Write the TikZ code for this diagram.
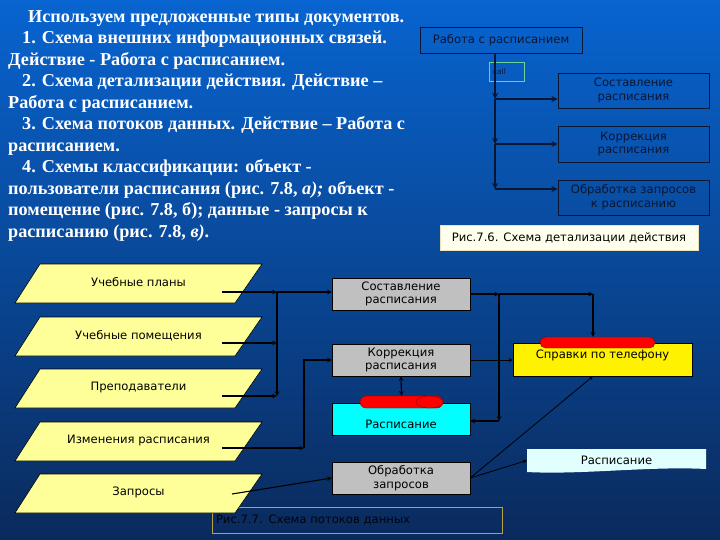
\documentclass[tikz,border=0pt]{standalone}
\usepackage{fontspec}
\setmainfont{Liberation Serif}
\newfontfamily\diafont{DejaVu Sans}
\usetikzlibrary{shapes.geometric,shapes.misc}
\definecolor{bgtop}{RGB}{8,100,208}
\definecolor{bgbot}{RGB}{10,42,92}
\definecolor{navy}{RGB}{10,22,50}
\definecolor{paper}{RGB}{255,255,153}
\definecolor{greybox}{RGB}{192,192,192}
\definecolor{aqua}{RGB}{0,255,255}
\definecolor{callgreen}{RGB}{110,210,150}
\definecolor{olive}{RGB}{190,160,70}
\definecolor{ivory}{RGB}{255,255,238}
\definecolor{pale}{RGB}{225,255,255}

\begin{document}
\begin{tikzpicture}[x=1pt,y=-1pt,>=stealth,
	every node/.style={font=\diafont\fontsize{11.6}{13.8}\selectfont, align=center, inner sep=0pt},
	frame/.style={draw=navy, line width=0.8pt, text=navy, minimum width=151pt, minimum height=35pt},
	proc/.style={draw=black, fill=greybox, text=black, minimum width=138pt, minimum height=32pt},
	pill/.style={rounded rectangle, draw=red!55!black, fill=red, minimum height=11pt},
	flow/.style={->, line width=1.1pt, black},
	bus/.style={->, line width=1.7pt, navy}]
		\shade[top color=bgtop, bottom color=bgbot] (0,0) rectangle (720,540);
		\useasboundingbox (0,0) rectangle (720,540);
		
		% text of the slide
		\node[anchor=north west, text=white, align=left, font=\bfseries\fontsize{18.2}{21.5}\selectfont] (intro) at (8,10) {%
			\hspace*{20pt}Используем предложенные типы документов.\\
			\hspace*{14pt}1. Схема внешних информационных связей.\\
			Действие - Работа с расписанием.\\
			\hspace*{14pt}2. Схема детализации действия. Действие –\\
			Работа с расписанием.\\
			\hspace*{14pt}3. Схема потоков данных. Действие – Работа с\\
			расписанием.\\
			\hspace*{14pt}4. Схемы классификации: объект -\\
			пользователи расписания (рис. 7.8, \textit{а);} объект -\\
			помещение (рис. 7.8, б); данные - запросы к\\
			расписанию (рис. 7.8, \textit{в)}.};
		
		% fig. 7.6
		\node[frame, minimum width=162pt, minimum height=26pt] (work) at (501,40) {Работа с расписанием};
		\node[draw=callgreen, line width=0.8pt, text=navy, text width=27pt, inner xsep=4pt, align=left,
			minimum height=19pt, font=\diafont\fontsize{7.5}{9}\selectfont] (call) at (506.5,71.5) {call};
		\node[frame] (plan) at (633.5,90.5) {Составление\\расписания};
		\node[frame, minimum height=36pt] (fix) at (633.5,144) {Коррекция\\расписания};
		\node[frame] (answer) at (633.5,197.5) {Обработка запросов\\к расписанию};
		\node[draw=ivory!70!olive, fill=ivory, text=black, minimum width=258pt, minimum height=25pt] (cap76) at (569,237.5) {Рис.7.6. Схема детализации действия};
		
		\coordinate (j0) at (495,53);
		\coordinate (j1) at (495,99);
		\coordinate (j2) at (495,144);
		\coordinate (j3) at (495,189);
		\draw[bus] (j0) -- (j1);
		\draw[bus] (j1) -- (j2);
		\draw[bus] (j2) -- (j3);
		\draw[bus] (j1) -- (j1 -| plan.west);
		\draw[bus] (j2) -- (j2 -| fix.west);
		\draw[bus] (j3) -- (j3 -| answer.west);
		
		% fig. 7.7
		\node[draw=olive, line width=0.8pt, text=black!80!navy, text width=282pt, align=left,
			minimum width=290pt, minimum height=26pt] (cap77) at (357,520) {Рис.7.7. Схема потоков данных};
		
		\foreach \y/\name/\label in {283.5/plans/Учебные планы, 336.5/rooms/Учебные помещения,
				388.5/staff/Преподаватели, 441.5/changes/Изменения расписания, 493.5/requests/Запросы} {
			\filldraw[draw=black, fill=paper, line width=0.6pt] (40,\y-19.5) -- (262,\y-19.5) -- (235,\y+19.5) -- (15,\y+19.5) -- cycle;
			\node[text=black] (\name) at (138.5,\y-1) {\label};
		}
		
		\node[proc] (compose) at (401,294) {Составление\\расписания};
		\node[proc] (correct) at (401,360) {Коррекция\\расписания};
		\node[proc, fill=aqua, text height=20pt] (timetable) at (401,419) {Расписание};
		\node[proc] (process) at (401,478) {Обработка\\запросов};
		\node[pill, minimum width=83pt, minimum height=12pt] (tablecap) at (401.5,402) {};
		\node[ellipse, draw=red!55!black, fill=red, minimum width=27pt, minimum height=12pt] (tableend) at (429.5,402) {};
		
		\node[draw=black, fill=yellow, text=black, minimum width=179pt, minimum height=33pt, text depth=10pt] (phone) at (602.5,359.5) {Справки по телефону};
		\node[pill, minimum width=115pt] (phonecap) at (597.5,342.5) {};
		
		\fill[pale] (527,449) -- (706,449) -- (706,469) .. controls (650,466) and (580,475) .. (527,472) -- cycle;
		\node[text=black, minimum width=179pt, minimum height=23pt] (sheetout) at (616.5,460.5) {Расписание};
		
		\coordinate (o1) at (222,292);
		\coordinate (o2) at (222,343);
		\coordinate (o3) at (222,396);
		\coordinate (o4) at (222,448);
		\coordinate (o5) at (232,494);
		\coordinate (join) at (277,292);
		\coordinate (bend) at (304,448);
		\coordinate (split) at (499,294);
		\coordinate (corner) at (593,294);
		\coordinate (drop) at (499,421);
		
		\draw[flow] (o1) -- (join);
		\draw[flow] (join) -- (join -| compose.west);
		\draw[flow] (join) -- (join |- o3);
		\draw[flow] (o2) -- (o2 -| join);
		\draw[flow] (o3) -- (o3 -| join);
		\draw[flow] (o4) -- (bend);
		\draw[flow] (bend) |- (correct.west);
		\draw[flow] (o5) -- (process.west);
		
		\draw[flow] (compose.east) -- (split);
		\draw[flow] (split) -- (corner);
		\draw[flow] (corner) -- (corner |- phonecap.north);
		\draw[flow] (split) -- (drop);
		\draw[flow] (drop) -- (drop -| timetable.east);
		\draw[flow, line width=0.8pt] (correct.east) -- (correct.east -| phone.west);
		\draw[flow, <->] (correct.south) -- (tablecap.north);
		\draw[flow, line width=0.8pt] (process.east) -- (corner |- phone.south);
		\draw[flow, line width=0.8pt] (process.east) -- (sheetout.west);
	\end{tikzpicture}
\end{document}
